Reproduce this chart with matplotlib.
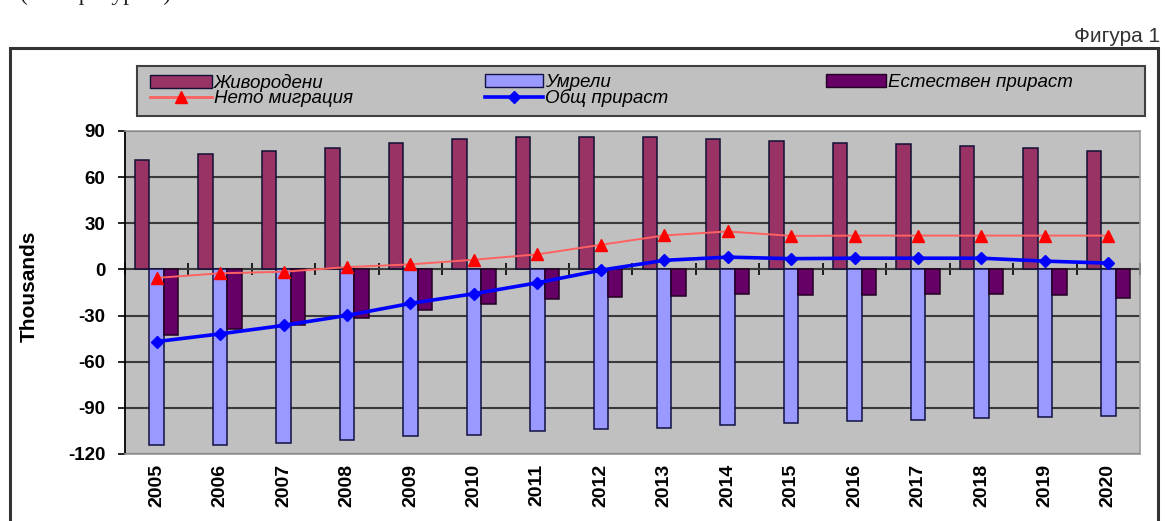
import matplotlib
matplotlib.use("Agg")
import matplotlib.pyplot as plt
import numpy as np
from matplotlib.patches import Rectangle, Patch
from matplotlib.lines import Line2D

# ---- data ----
years = [str(y) for y in range(2005, 2021)]
births = [71.4, 75.3, 77.0, 79.2, 82.4, 84.6, 86.1, 86.1, 86.1, 84.6, 83.3, 82.2, 81.3, 80.4, 79.2, 76.8]
deaths = [-113.9, -113.9, -112.8, -110.6, -108.0, -107.4, -104.8, -103.7, -102.8, -100.9, -99.8, -98.7, -97.6, -96.5, -95.7, -95.5]
natural = [-42.5, -39.0, -36.0, -31.5, -26.5, -22.5, -19.5, -18.0, -17.0, -16.3, -16.5, -16.5, -16.3, -16.1, -16.5, -18.7]
migration = [-5.5, -2.5, -1.5, 1.5, 3.3, 6.3, 9.8, 16.0, 22.1, 24.7, 21.8, 22.0, 22.0, 22.0, 22.0, 22.0]
total = [-46.9, -41.9, -36.4, -29.9, -22.1, -15.8, -8.7, -0.5, 5.9, 8.0, 7.0, 7.3, 7.3, 7.3, 5.4, 4.1]
yticks = [-120, -90, -60, -30, 0, 30, 60, 90]

labels = ["Живородени", "Умрели", "Естествен прираст", "Нето миграция", "Общ прираст"]
c_births, c_deaths, c_nat = "#993366", "#9999FF", "#660066"
c_mig_line, c_mig_mk = "#FF6060", "#FF0000"
c_tot = "#0000FF"

W, H = 1165, 521
fig = plt.figure(figsize=(W / 100, H / 100), dpi=100)
fig.patch.set_facecolor("white")
FONT = "Liberation Sans"

def fx(px):
    return px / W

def fy(py):
    return 1 - py / H

# outer frame
fig.patches.append(Rectangle((fx(10), -0.05), fx(1158) - fx(10), fy(48) + 0.05,
                             transform=fig.transFigure, fill=False,
                             edgecolor="#333333", linewidth=2.2, zorder=0))

# fragment of previous text line at top
fig.text(fx(20), fy(-6), "(виж фигура 1).", fontfamily="Liberation Serif",
         fontsize=17, color="#222222", va="center", ha="left")

fig.text(fx(1160), fy(36), "Фигура 1", fontfamily=FONT, fontsize=15,
         color="#333333", ha="right", va="center")

ax = fig.add_axes([fx(125), fy(454), fx(1140) - fx(125), fy(131) - fy(454)])
ax.set_facecolor("#C0C0C0")
x = np.arange(len(years))
bw = 0.228
ax.bar(x - bw, births, bw, color=c_births, edgecolor="#111133", linewidth=1.1, zorder=3)
ax.bar(x, deaths, bw, color=c_deaths, edgecolor="#111144", linewidth=1.1, zorder=3)
ax.bar(x + bw, natural, bw, color=c_nat, edgecolor="#220022", linewidth=1.1, zorder=3)

ax.plot(x, migration, color=c_mig_line, linewidth=1.4, zorder=5)
ax.plot(x, migration, linestyle="none", marker="^", markersize=9,
        color=c_mig_mk, zorder=6)
ax.plot(x, total, color=c_tot, linewidth=2.6, marker="D", markersize=6.5,
        zorder=6)

ax.set_xlim(-0.5, len(years) - 0.5)
ax.set_ylim(yticks[0], yticks[-1])
ax.set_yticks(yticks)
ax.set_yticklabels([str(v) for v in yticks], fontfamily=FONT, fontsize=13.5,
                   fontweight="bold")
ax.set_xticks(x)
ax.set_xticklabels(years, rotation=90, fontfamily=FONT, fontsize=14,
                   fontweight="bold")
ax.tick_params(axis="x", length=0, pad=7)
ax.tick_params(axis="y", length=5, width=1.2, direction="out", pad=9, color="black")
ax.grid(axis="y", color="#3a3a3a", linewidth=1.5, zorder=1)
ax.set_axisbelow(True)
for s in ["top", "right", "bottom"]:
    ax.spines[s].set_color("#9a9a9a")
    ax.spines[s].set_linewidth(1.2)
ax.spines["left"].set_color("black")
ax.spines["left"].set_linewidth(1.3)

ax.set_ylabel("Thousands", fontfamily=FONT, fontsize=15, fontweight="bold")
ax.yaxis.set_label_coords((39 - 125) / (1140 - 125), 0.52)

# category axis crossing at zero
y0 = (0 - yticks[0]) / (yticks[-1] - yticks[0])
sec = ax.secondary_xaxis(y0)
sec.set_xticks(np.arange(len(years) + 1) - 0.5)
sec.set_xticklabels([])
sec.tick_params(direction="inout", length=9, width=1.2, color="black")
sec.spines["bottom"].set_color("black")
sec.spines["bottom"].set_linewidth(1.5)
for s in ["top", "left", "right"]:
    if s in sec.spines:
        sec.spines[s].set_visible(False)

# legend box
fig.patches.append(Rectangle((fx(137), fy(116)), fx(1145) - fx(137), fy(66) - fy(116),
                             transform=fig.transFigure, facecolor="#C0C0C0",
                             edgecolor="#404040", linewidth=1.5, zorder=1))

h_births = Patch(facecolor=c_births, edgecolor="#111133", linewidth=1.0)
h_deaths = Patch(facecolor=c_deaths, edgecolor="#111144", linewidth=1.0)
h_nat = Patch(facecolor=c_nat, edgecolor="#220022", linewidth=1.0)
h_mig = Line2D([], [], color=c_mig_line, linewidth=2.0, marker="^",
               markersize=8, markerfacecolor=c_mig_mk, markeredgecolor=c_mig_mk)
h_tot = Line2D([], [], color=c_tot, linewidth=2.6, marker="D", markersize=6)

leg_font = {"family": FONT, "style": "italic", "size": 13.5}

def add_leg(handles, labs, xpx, hl):
    lg = fig.legend(handles, labs, loc="upper left",
                    bbox_to_anchor=(fx(xpx), fy(74)), frameon=False,
                    prop=leg_font, borderpad=0, borderaxespad=0,
                    handlelength=hl, handletextpad=0.1, labelspacing=-0.1,
                    handleheight=0.65)
    lg.set_zorder(2)
    return lg

add_leg([h_births, h_mig], [labels[0], labels[3]], 150, 3.3)
add_leg([h_deaths, h_tot], [labels[1], labels[4]], 485, 3.1)
add_leg([h_nat], [labels[2]], 826, 3.2)

fig.savefig("out.png", dpi=100, facecolor="white")
